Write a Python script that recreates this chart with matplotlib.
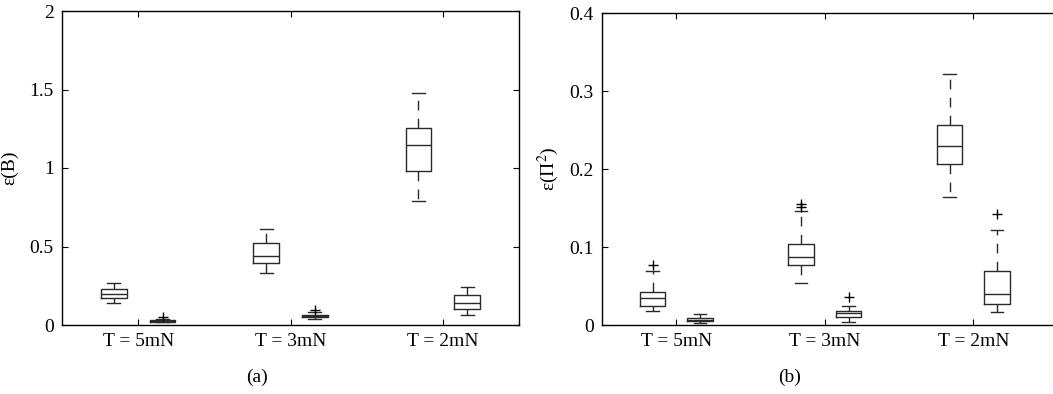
import matplotlib
matplotlib.use('Agg')
import matplotlib.pyplot as plt

plt.rcParams['font.family'] = ['Liberation Serif', 'DejaVu Serif']
plt.rcParams['mathtext.fontset'] = 'stix'

groups = ['T = 5mN', 'T = 3mN', 'T = 2mN']

# panel (a): epsilon(B), two boxes per group
a_whislo = [0.138, 0.016, 0.329, 0.036, 0.790, 0.066]
a_q1     = [0.170, 0.021, 0.397, 0.054, 0.979, 0.102]
a_med    = [0.200, 0.026, 0.437, 0.059, 1.149, 0.138]
a_q3     = [0.227, 0.031, 0.524, 0.065, 1.255, 0.189]
a_whishi = [0.270, 0.040, 0.611, 0.081, 1.480, 0.240]
a_fliers = [[], [0.048], [], [0.098], [], []]

# panel (b): epsilon(Pi^2)
b_whislo = [0.0184, 0.0020, 0.0535, 0.0043, 0.164, 0.0171]
b_q1     = [0.0248, 0.0050, 0.0766, 0.0098, 0.2066, 0.0270]
b_med    = [0.0340, 0.0070, 0.0877, 0.0150, 0.2297, 0.0394]
b_q3     = [0.0424, 0.0086, 0.1040, 0.0184, 0.2567, 0.0697]
b_whishi = [0.0697, 0.0137, 0.1460, 0.0244, 0.3220, 0.1220]
b_fliers = [[0.077], [], [0.151, 0.155], [0.0364], [], [0.142]]

positions = [0.84, 1.16, 1.84, 2.16, 2.84, 3.16]


def make_stats(lo, q1, med, q3, hi, fl):
    stats = []
    for i in range(len(med)):
        stats.append(dict(whislo=lo[i], q1=q1[i], med=med[i], q3=q3[i],
                          whishi=hi[i], fliers=fl[i]))
    return stats


def draw(ax, stats, right_ticks=True):
    lc = '#2a2a2a'
    ax.bxp(stats, positions=positions, widths=0.17, capwidths=0.085,
           boxprops=dict(color=lc, linewidth=1.0),
           medianprops=dict(color=lc, linewidth=1.0),
           whiskerprops=dict(color=lc, linewidth=1.0, linestyle=(0, (7, 6))),
           capprops=dict(color=lc, linewidth=1.0),
           flierprops=dict(marker='+', markeredgecolor='black', markersize=7,
                           markeredgewidth=1.0),
           manage_ticks=False)
    ax.set_xticks([1, 2, 3])
    ax.set_xticklabels(groups)
    ax.tick_params(direction='in', top=True, right=right_ticks, length=4,
                   labelsize=14, pad=6, width=0.8)
    for s in ax.spines.values():
        s.set_linewidth(1.0)


fig = plt.figure(figsize=(10.53, 3.94), dpi=100)
W, H = 1053, 394

ax1 = fig.add_axes([62 / W, 1 - 325 / H, 457 / W, 314 / H])
draw(ax1, make_stats(a_whislo, a_q1, a_med, a_q3, a_whishi, a_fliers))
ax1.set_xlim(0.5, 3.5)
ax1.set_ylim(0, 2)
ax1.set_yticks([0, 0.5, 1, 1.5, 2])
ax1.set_yticklabels(['0', '0.5', '1', '1.5', '2'])
ax1.set_ylabel('ε(B)', fontsize=14, labelpad=8)

ax2 = fig.add_axes([602 / W, 1 - 325 / H, 456 / W, 312 / H])
draw(ax2, make_stats(b_whislo, b_q1, b_med, b_q3, b_whishi, b_fliers),
     right_ticks=False)
ax2.set_xlim(0.5, 3.57)
ax2.set_ylim(0, 0.4)
ax2.set_yticks([0, 0.1, 0.2, 0.3, 0.4])
ax2.set_yticklabels(['0', '0.1', '0.2', '0.3', '0.4'])
ax2.set_ylabel('ε(Π$^2$)', fontsize=14, labelpad=6)

fig.text(257 / W, 1 - 377 / H, '(a)', fontsize=14, ha='center', va='center')
fig.text(790 / W, 1 - 377 / H, '(b)', fontsize=14, ha='center', va='center')

fig.savefig('out.png', dpi=100)
